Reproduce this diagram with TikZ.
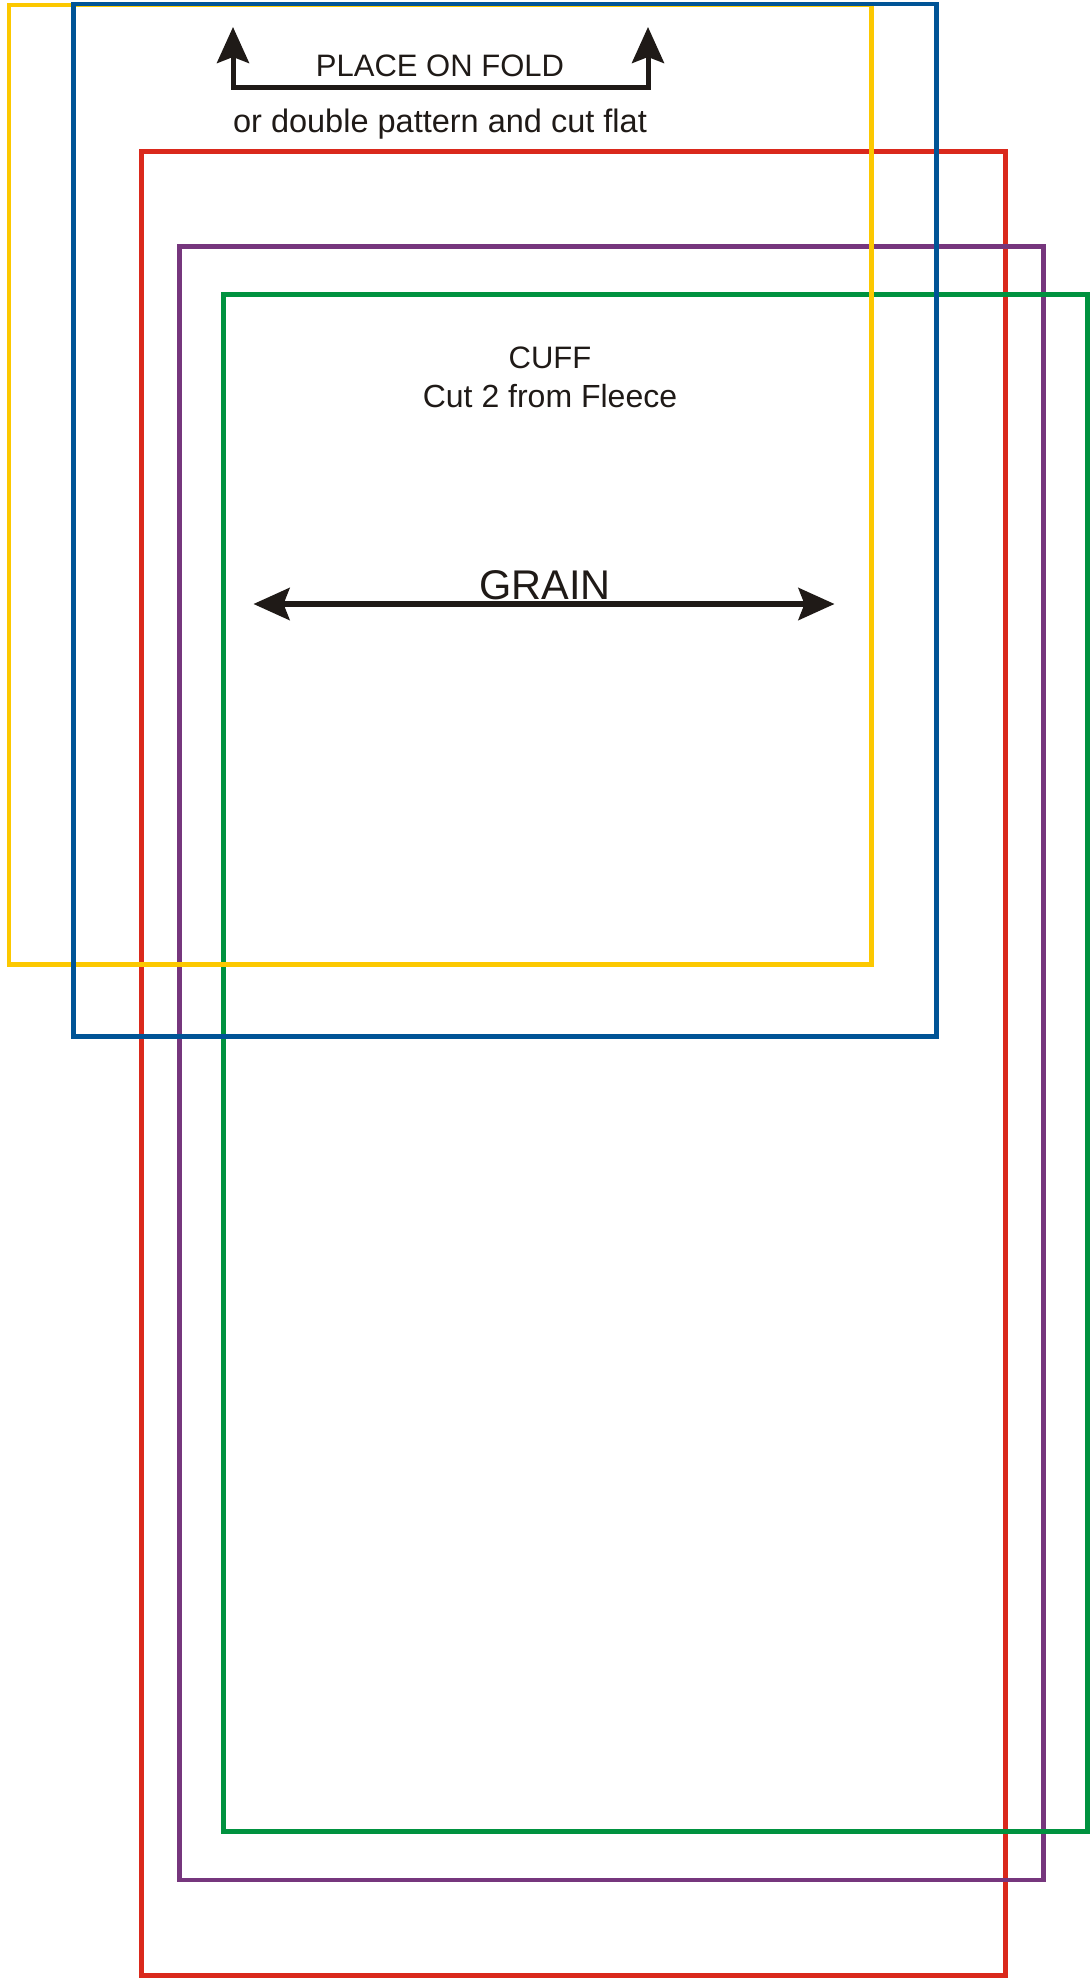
\documentclass[tikz,border=0pt]{standalone}
\usepackage{fontspec}
\setmainfont{Liberation Sans}
\usetikzlibrary{arrows.meta}
\definecolor{cyellow}{RGB}{252,200,0}
\definecolor{cblue}{RGB}{0,84,150}
\definecolor{cred}{RGB}{218,41,28}
\definecolor{cpurple}{RGB}{118,54,125}
\definecolor{cgreen}{RGB}{0,146,63}
\definecolor{cblack}{RGB}{31,26,23}
\tikzset{
  outline/.style={line width=4.8pt, line join=miter},
  label/.style={inner sep=0pt, anchor=base, text=cblack, font=\fontsize{31}{37}\selectfont},
  midlabel/.style={inner sep=0pt, anchor=base, text=cblack, font=\fontsize{32}{38}\selectfont},
  widelabel/.style={inner sep=0pt, anchor=base, text=cblack, font=\fontsize{32.5}{39}\selectfont},
  biglabel/.style={inner sep=0pt, anchor=base, text=cblack, font=\fontsize{41.5}{48}\selectfont},
  fold/.style={line width=5pt, cblack, line join=miter,
    {Stealth[length=36pt, width=32pt, inset=6pt]}-{Stealth[length=36pt, width=32pt, inset=6pt]}},
  grain/.style={line width=5.5pt, cblack,
    {Stealth[length=36pt, width=32pt, inset=6pt]}-{Stealth[length=36pt, width=32pt, inset=6pt]}}
}
\begin{document}
\begin{tikzpicture}[x=1pt, y=-1pt]
\useasboundingbox (0,0) rectangle (1090,1980);
% pattern outlines
\draw[outline, cred] (141.5,151.5) rectangle (1005.5,1975.5);
\draw[outline, cpurple] (179.5,246.7) rectangle (1043.5,1880);
\draw[outline, cgreen] (223.5,294.5) rectangle (1087.5,1831.5);
\draw[outline, cyellow] (9,5) rectangle (871.5,964.5);
\draw[outline, cblue] (73.5,4) rectangle (936.5,1036.5);
% place on fold arrow
\coordinate (fl) at (233,27);
\coordinate (flb) at (233,87.5);
\coordinate (frb) at (648,87.5);
\coordinate (fr) at (648,27);
\draw[fold] (fl) -- (flb) -- (frb) -- (fr);
\node[label] (place) at (440,76.5) {PLACE ON FOLD};
\node[widelabel] (double) at (440,132.5) {or double pattern and cut flat};
% cuff labels
\node[label] (cuff) at (550,368) {CUFF};
\node[midlabel] (cut) at (550,407) {Cut 2 from Fleece};
% grain line
\coordinate (gl) at (253.5,604);
\coordinate (gr) at (834.5,604);
\draw[grain] (gl) -- (gr);
\node[biglabel] (grainlbl) at (545,599) {GRAIN};
\end{tikzpicture}
\end{document}
